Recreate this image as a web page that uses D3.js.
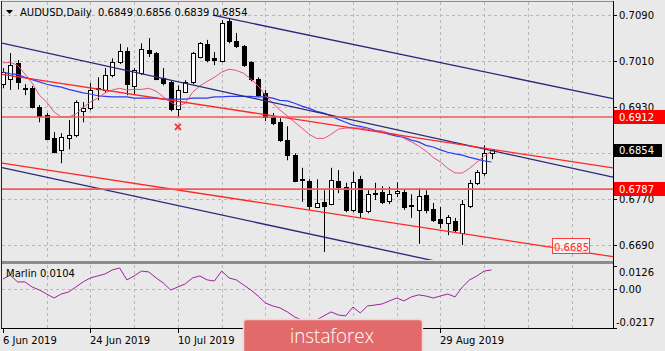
<!DOCTYPE html>
<html>
<head>
<meta charset="utf-8">
<script src="https://cdn.jsdelivr.net/npm/d3@7"></script>
<style>
  body { margin: 0; background: #e9e9e9; }
  svg { display: block; font-family: "DejaVu Sans", sans-serif; font-size: 10px; }
</style>
</head>
<body>
<svg id="chart" width="665" height="351"></svg>
<script>
// daily bars, 6 Jun 2019 .. 9 Sep 2019
var open = [0.6969,0.6978,0.7006,0.6962,0.6962,0.6929,0.6915,0.6875,0.6855,0.6875,
  0.6881,0.6922,0.6927,0.6960,0.6959,0.6985,0.7007,0.7026,0.6966,0.6988,
  0.7028,0.7023,0.6980,0.6973,0.6926,0.6955,0.6973,0.7016,0.7039,0.7014,
  0.7009,0.7079,0.7044,0.7035,0.7007,0.6978,0.6954,0.6912,0.6903,0.6872,
  0.6846,0.6804,0.6801,0.6756,0.6765,0.6761,0.6801,0.6791,0.6751,0.6804,
  0.6749,0.6779,0.6782,0.6765,0.6780,0.6782,0.6759,0.6751,0.6777,0.6752,
  0.6735,0.6728,0.6732,0.6711,0.6758,0.6798,0.6815,0.6849];
var high = [0.6997,0.7023,0.7011,0.6969,0.6966,0.6933,0.6919,0.6886,0.6884,0.6907,
  0.6941,0.6938,0.6971,0.6981,0.6997,0.7014,0.7039,0.7033,0.6997,0.7040,
  0.7049,0.7025,0.6997,0.6976,0.6967,0.6976,0.7025,0.7042,0.7046,0.7025,
  0.7080,0.7084,0.7058,0.7037,0.7009,0.6981,0.6959,0.6919,0.6910,0.6896,
  0.6849,0.6824,0.6804,0.6804,0.6785,0.6824,0.6820,0.6798,0.6817,0.6810,
  0.6785,0.6798,0.6792,0.6791,0.6799,0.6787,0.6778,0.6789,0.6785,0.6763,
  0.6756,0.6742,0.6737,0.6768,0.6803,0.6820,0.6863,0.6856];
var low = [0.6962,0.6959,0.6960,0.6950,0.6927,0.6903,0.6872,0.6849,0.6832,0.6856,
  0.6877,0.6903,0.6924,0.6941,0.6954,0.6981,0.7004,0.6950,0.6950,0.6985,
  0.7016,0.6976,0.6967,0.6922,0.6912,0.6954,0.6969,0.7014,0.7007,0.7002,
  0.7007,0.7040,0.7032,0.6999,0.6974,0.6947,0.6905,0.6898,0.6869,0.6837,
  0.6799,0.6765,0.6751,0.6754,0.6678,0.6759,0.6780,0.6747,0.6747,0.6737,
  0.6745,0.6768,0.6761,0.6761,0.6773,0.6751,0.6737,0.6692,0.6745,0.6730,
  0.6719,0.6707,0.6711,0.6690,0.6754,0.6794,0.6810,0.6839];
var close = [0.6990,0.7002,0.6973,0.6960,0.6929,0.6914,0.6874,0.6851,0.6877,0.6881,
  0.6938,0.6927,0.6959,0.6962,0.6985,0.7007,0.7026,0.6969,0.6994,0.7030,
  0.7023,0.6978,0.6971,0.6926,0.6959,0.6973,0.7023,0.7040,0.7011,0.7011,
  0.7075,0.7044,0.7035,0.7002,0.6978,0.6950,0.6912,0.6901,0.6872,0.6846,
  0.6801,0.6803,0.6758,0.6763,0.6758,0.6803,0.6791,0.6751,0.6799,0.6747,
  0.6778,0.6781,0.6765,0.6778,0.6784,0.6756,0.6758,0.6775,0.6751,0.6733,
  0.6728,0.6739,0.6716,0.6761,0.6798,0.6817,0.6849,0.6854];

// moving averages (red = fast, blue = slow)
var maFast = [0.7006,0.7007,0.7002,0.6987,0.6971,0.6950,0.6938,0.6921,0.6912,0.6912,
  0.6917,0.6929,0.6938,0.6945,0.6954,0.6959,0.6962,0.6959,0.6960,0.6960,
  0.6962,0.6957,0.6947,0.6938,0.6931,0.6936,0.6955,0.6966,0.6974,0.6981,
  0.6990,0.6995,0.6993,0.6988,0.6978,0.6966,0.6950,0.6936,0.6924,0.6914,
  0.6903,0.6893,0.6882,0.6875,0.6875,0.6882,0.6891,0.6893,0.6893,0.6893,
  0.6891,0.6888,0.6888,0.6884,0.6882,0.6875,0.6869,0.6862,0.6853,0.6842,
  0.6834,0.6823,0.6815,0.6815,0.6823,0.6834,0.6844,0.6853];
var maSlow = [0.6990,0.6987,0.6986,0.6981,0.6977,0.6973,0.6969,0.6966,0.6964,0.6960,
  0.6957,0.6954,0.6952,0.6949,0.6948,0.6947,0.6947,0.6947,0.6945,0.6945,
  0.6945,0.6945,0.6943,0.6943,0.6943,0.6943,0.6945,0.6945,0.6945,0.6947,
  0.6947,0.6948,0.6948,0.6948,0.6948,0.6947,0.6947,0.6945,0.6941,0.6940,
  0.6936,0.6931,0.6927,0.6922,0.6919,0.6914,0.6908,0.6903,0.6898,0.6896,
  0.6893,0.6889,0.6886,0.6882,0.6879,0.6877,0.6872,0.6869,0.6863,0.6860,
  0.6855,0.6851,0.6848,0.6846,0.6842,0.6839,0.6836,0.6834];

// Marlin oscillator
var marlin = [0.0054,0.0076,0.0038,0.0038,0.0010,-0.0007,-0.0029,-0.0051,-0.0029,-0.0018,
  0.0010,0.0038,0.0060,0.0071,0.0082,0.0104,0.0115,0.0049,0.0071,0.0098,
  0.0093,0.0060,0.0032,-0.0007,0.0010,0.0027,0.0060,0.0071,0.0049,0.0043,
  0.0098,0.0060,0.0049,0.0021,-0.0007,-0.0040,-0.0079,-0.0095,-0.0106,-0.0128,
  -0.0156,-0.0173,-0.0184,-0.0173,-0.0150,-0.0128,-0.0145,-0.0150,-0.0101,-0.0134,
  -0.0095,-0.0090,-0.0084,-0.0067,-0.0051,-0.0067,-0.0045,-0.0034,-0.0040,-0.0051,
  -0.0040,-0.0029,-0.0045,0.0010,0.0049,0.0071,0.0098,0.0104];

// date labels that are not covered by the watermark
var dateTickBars = [0, 12, 24, 60];
var dateTickLabels = ["6 Jun 2019", "24 Jun 2019", "10 Jul 2019", "29 Aug 2019"];
var priceGrid = [0.7090, 0.7010, 0.6930, 0.6850, 0.6770, 0.6690];
var priceLabels = ["0.7090", "0.7010", "0.6930", "0.6770", "0.6690"];
var levels = [0.6912, 0.6787];
var lastPrice = 0.6854;
var marlinTicks = [0.0126, 0.00, -0.0217];
var marlinTickLabels = ["0.0126", "0.00", "-0.0217"];

// drawn objects: [bar1, price1, bar2, price2, startBar]
var navyLines = [[31, 0.7083, 67, 0.6988, 28.8], [0, 0.7040, 67, 0.6854, -1], [0, 0.6824, 67, 0.6641, -1]];
var redLines = [[0, 0.6986, 67, 0.6856, -1], [0, 0.6832, 67, 0.6702, -1]];
var signalBar = 24, signalPrice = 0.6895;
var channelLabel = { bar: 75.3, price: 0.6685, text: "0.6685" };

var W = 665, H = 351;
var left = 2, right = 613, mainTop = 2, mainBottom = 260, indTop = 265, indBottom = 328;

var svg = d3.select("#chart");
svg.append("rect").attr("width", W).attr("height", H).attr("fill", "#e9e9e9");

var x = d3.scaleLinear().domain([-0.13, 83.66]).range([left, right]);
var y = d3.scaleLinear().domain([0.6690, 0.7090]).range([245, 14.5]);
var yi = d3.scaleLinear().domain([-0.0217, 0.0126]).range([indBottom, indTop + 1]);
var px = function (v) { return Math.round(v) + 0.5; };

var defs = svg.append("defs");
defs.append("clipPath").attr("id", "clipMain").append("rect")
  .attr("x", left).attr("y", mainTop).attr("width", right - left).attr("height", mainBottom - mainTop);
defs.append("clipPath").attr("id", "clipInd").append("rect")
  .attr("x", left).attr("y", indTop).attr("width", right - left).attr("height", indBottom - indTop);

var main = svg.append("g").attr("clip-path", "url(#clipMain)");
var ind = svg.append("g").attr("clip-path", "url(#clipInd)");

// grid
var vGrid = d3.range(6, 84, 6);
[[main, mainTop, mainBottom], [ind, indTop, indBottom]].forEach(function (p) {
  p[0].selectAll(null).data(vGrid).enter().append("line")
    .attr("x1", function (d) { return px(x(d)); }).attr("x2", function (d) { return px(x(d)); })
    .attr("y1", p[1]).attr("y2", p[2])
    .attr("stroke", "#b8b8b8").attr("stroke-dasharray", "3,3");
});
main.selectAll(null).data(priceGrid).enter().append("line")
  .attr("x1", left).attr("x2", right)
  .attr("y1", function (d) { return px(y(d)); }).attr("y2", function (d) { return px(y(d)); })
  .attr("stroke", "#b8b8b8").attr("stroke-dasharray", "3,3");
ind.append("line").attr("x1", left).attr("x2", right)
  .attr("y1", px(yi(0))).attr("y2", px(yi(0)))
  .attr("stroke", "#b8b8b8").attr("stroke-dasharray", "3,3");

// candles
var bars = d3.range(open.length);
var candle = main.selectAll(".candle").data(bars).enter().append("g").attr("class", "candle");
candle.append("line")
  .attr("x1", function (i) { return px(x(i)); }).attr("x2", function (i) { return px(x(i)); })
  .attr("y1", function (i) { return y(high[i]); }).attr("y2", function (i) { return y(low[i]); })
  .attr("stroke", "#000");
candle.append("rect")
  .attr("x", function (i) { return Math.round(x(i)) - 2 + 0.5; })
  .attr("width", 4)
  .attr("y", function (i) { return Math.round(y(Math.max(open[i], close[i]))) + 0.5; })
  .attr("height", function (i) { return Math.max(1, Math.round(Math.abs(y(open[i]) - y(close[i])))); })
  .attr("fill", function (i) { return close[i] >= open[i] ? "#fff" : "#000"; })
  .attr("stroke", "#000");

// moving averages
var maLine = d3.line().x(function (d, i) { return x(i); }).y(function (d) { return y(d); });
main.append("path").datum(maSlow).attr("d", maLine)
  .attr("fill", "none").attr("stroke", "#2f3cf0").attr("stroke-width", 1.2);
main.append("path").datum(maFast).attr("d", maLine)
  .attr("fill", "none").attr("stroke", "#e4547a").attr("stroke-width", 1);

// trend lines
function drawTrend(t, color, width) {
  var slope = (t[3] - t[1]) / (t[2] - t[0]);
  var b0 = t[4] < 0 ? x.domain()[0] : t[4];
  var b1 = x.domain()[1];
  main.append("line")
    .attr("x1", x(b0)).attr("y1", y(t[1] + slope * (b0 - t[0])))
    .attr("x2", x(b1)).attr("y2", y(t[1] + slope * (b1 - t[0])))
    .attr("stroke", color).attr("stroke-width", width);
}
navyLines.forEach(function (t) { drawTrend(t, "#28287c", 1.3); });
redLines.forEach(function (t) { drawTrend(t, "#ff2626", 1.3); });

main.selectAll(".level").data(levels).enter().append("line").attr("class", "level")
  .attr("x1", left).attr("x2", right)
  .attr("y1", function (d) { return y(d); }).attr("y2", function (d) { return y(d); })
  .attr("stroke", "#f05a5a").attr("stroke-width", 1.6);

// signal cross
var sx = x(signalBar), sy = y(signalPrice);
main.append("path")
  .attr("d", "M" + (sx - 3) + "," + (sy - 3) + "L" + (sx + 3) + "," + (sy + 3) + "M" + (sx + 3) + "," + (sy - 3) + "L" + (sx - 3) + "," + (sy + 3))
  .attr("stroke", "#ff3030").attr("stroke-width", 1.8);

// channel price label
var cl = main.append("g");
cl.append("rect").attr("x", Math.round(x(channelLabel.bar)) + 0.5).attr("y", Math.round(y(channelLabel.price)) - 9.5)
  .attr("width", 37).attr("height", 15).attr("fill", "#fff").attr("fill-opacity", 0.6)
  .attr("stroke", "#ff3b3b");
cl.append("text").attr("x", x(channelLabel.bar) + 2).attr("y", y(channelLabel.price) + 3)
  .attr("fill", "#ff2a2a").text(channelLabel.text);

// marlin
ind.append("path").datum(marlin)
  .attr("d", d3.line().x(function (d, i) { return x(i); }).y(function (d) { return yi(d); }))
  .attr("fill", "none").attr("stroke", "#a020a0").attr("stroke-width", 1);

// frames
svg.append("rect").attr("x", left).attr("y", mainBottom + 1).attr("width", right - left).attr("height", 3)
  .attr("fill", "#8c8c8c");
svg.append("line").attr("x1", left).attr("x2", right).attr("y1", 1.5).attr("y2", 1.5).attr("stroke", "#8c8c8c");
svg.append("line").attr("x1", 1.5).attr("x2", 1.5).attr("y1", 1).attr("y2", indBottom).attr("stroke", "#222");
svg.append("line").attr("x1", right + 0.5).attr("x2", right + 0.5).attr("y1", 1).attr("y2", indBottom + 1).attr("stroke", "#000");
svg.append("line").attr("x1", 1).attr("x2", right + 1).attr("y1", indBottom + 0.5).attr("y2", indBottom + 0.5).attr("stroke", "#000");

// right price axis
var axisG = svg.append("g");
axisG.selectAll(".pt").data(priceGrid).enter().append("line")
  .attr("x1", right).attr("x2", right + 4)
  .attr("y1", function (d) { return px(y(d)); }).attr("y2", function (d) { return px(y(d)); })
  .attr("stroke", "#000");
axisG.selectAll(".pl").data(priceLabels).enter().append("text")
  .attr("x", 619).attr("y", function (d) { return y(+d) + 4; })
  .attr("fill", "#000").text(function (d) { return d; });

levels.forEach(function (v) {
  axisG.append("rect").attr("x", 614).attr("y", Math.round(y(v)) - 7).attr("width", 51).attr("height", 14).attr("fill", "#ff0000");
  axisG.append("text").attr("x", 619).attr("y", y(v) + 4).attr("fill", "#fff").text(v.toFixed(4));
});
axisG.append("rect").attr("x", 614).attr("y", Math.round(y(lastPrice)) - 6).attr("width", 48).attr("height", 13).attr("fill", "#000");
axisG.append("text").attr("x", 619).attr("y", y(lastPrice) + 4).attr("fill", "#fff").text(lastPrice.toFixed(4));

// marlin axis
axisG.selectAll(".mt").data(marlinTicks).enter().append("line")
  .attr("x1", right).attr("x2", right + 4)
  .attr("y1", function (d) { return px(yi(d)); }).attr("y2", function (d) { return px(yi(d)); })
  .attr("stroke", "#000");
axisG.selectAll(".ml").data(marlinTicks).enter().append("text")
  .attr("x", function (d, i) { return i === 2 ? 616 : 619; })
  .attr("y", function (d, i) { return i === 0 ? yi(d) + 10 : (i === 2 ? yi(d) - 2 : yi(d) + 4); })
  .attr("fill", "#000").text(function (d, i) { return marlinTickLabels[i]; });

// date axis
svg.selectAll(".dt").data(dateTickBars).enter().append("line")
  .attr("x1", function (d) { return px(x(d)); }).attr("x2", function (d) { return px(x(d)); })
  .attr("y1", indBottom).attr("y2", indBottom + 5).attr("stroke", "#000");
svg.selectAll(".dl").data(dateTickBars).enter().append("text")
  .attr("x", function (d) { return Math.round(x(d)); }).attr("y", 344)
  .attr("fill", "#000").text(function (d, i) { return dateTickLabels[i]; });

// titles
svg.append("path").attr("d", "M6,10L13,10L9.5,14Z").attr("fill", "#000");
svg.append("text").attr("x", 20).attr("y", 16).attr("fill", "#000")
  .attr("xml:space", "preserve")
  .text("AUDUSD,Daily  " + [open[67], high[67], low[67], close[67]].map(function (v) { return v.toFixed(4); }).join(" "));
svg.append("text").attr("x", 6).attr("y", 277).attr("fill", "#000").text("Marlin " + marlin[marlin.length - 1].toFixed(4));

// watermark
var wm = svg.append("g");
wm.append("rect").attr("x", 243.5).attr("y", 319.5).attr("width", 179).attr("height", 40).attr("rx", 3)
  .attr("fill", "#e36a6a").attr("stroke", "#f4d4d4").attr("stroke-width", 1.5);
wm.append("text").attr("x", 290).attr("y", 343).attr("fill", "#fff")
  .attr("font-family", "'Open Sans', sans-serif").attr("font-weight", 300).attr("font-size", 21)
  .attr("textLength", 84).attr("lengthAdjust", "spacingAndGlyphs").text("instaforex");
</script>
</body>
</html>
